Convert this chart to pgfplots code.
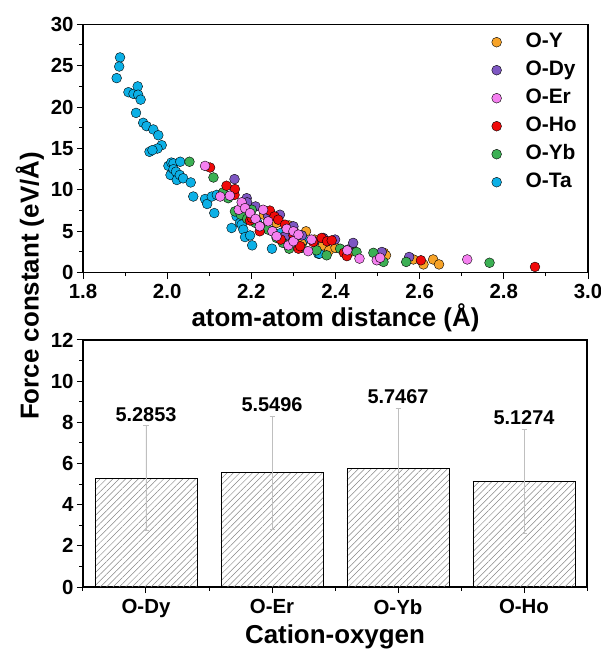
\documentclass[border=0pt]{standalone}
\usepackage{fontspec}
\setmainfont{Liberation Sans}
\usepackage{pgfplots}
\pgfplotsset{compat=1.18}
\usepackage{pgfplotstable}
\usetikzlibrary{patterns.meta}

\definecolor{cY}{RGB}{247,163,40}
\definecolor{cDy}{RGB}{126,87,194}
\definecolor{cEr}{RGB}{245,128,240}
\definecolor{cHo}{RGB}{240,10,10}
\definecolor{cYb}{RGB}{60,176,84}
\definecolor{cTa}{RGB}{12,176,230}

\pgfplotstableread{
x y
2.20 6.8
2.23 7.0
2.26 6.0
2.28 4.0
2.29 5.7
2.30 5.2
2.32 3.5
2.33 5.0
2.35 4.0
2.37 3.3
2.385 2.7
2.40 3.0
2.44 2.6
2.515 2.4
2.52 2.1
2.585 1.6
2.609 1.0
2.632 1.6
2.646 1.0
}\dataY

\pgfplotstableread{
x y
2.160 11.3
2.189 9.0
2.19 8.5
2.21 8.0
2.24 6.8
2.268 7.0
2.28 4.4
2.30 5.6
2.32 4.5
2.35 3.8
2.371 4.2
2.399 4.0
2.43 2.8
2.442 3.6
2.510 2.5
2.575 1.9
}\dataDy

\pgfplotstableread{
x y
2.090 12.9
2.126 9.2
2.149 9.3
2.17 7.6
2.177 8.5
2.185 7.8
2.197 7.2
2.210 6.5
2.22 5.6
2.228 7.6
2.240 6.2
2.250 5.0
2.260 4.4
2.284 5.3
2.288 3.3
2.300 5.0
2.30 3.8
2.312 4.6
2.335 2.6
2.343 4.0
2.428 2.7
2.457 1.7
2.498 1.5
2.506 1.8
2.713 1.6
}\dataEr

\pgfplotstableread{
x y
2.102 12.7
2.141 10.5
2.16 9.4
2.161 10.1
2.197 6.3
2.201 6.6
2.22 5.0
2.244 7.5
2.255 6.8
2.264 6.4
2.27 4.0
2.28 5.8
2.30 4.5
2.312 2.9
2.316 3.2
2.347 3.7
2.367 4.2
2.38 3.8
2.391 3.9
2.42 2.4
2.427 2.0
2.603 1.5
2.874 0.7
}\dataHo

\pgfplotstableread{
x y
2.053 13.4
2.110 11.5
2.133 9.7
2.145 9.0
2.161 7.4
2.175 7.0
2.19 6.5
2.201 7.6
2.21 6.0
2.221 5.6
2.240 5.2
2.260 4.2
2.275 3.6
2.290 2.9
2.32 3.0
2.355 2.7
2.379 2.1
2.411 2.9
2.45 2.5
2.490 2.4
2.514 1.3
2.568 1.3
2.766 1.2
}\dataYb

\pgfplotstableread{
x y
1.888 26.0
1.886 24.9
1.880 23.5
1.908 21.8
1.920 21.6
1.930 22.5
1.931 21.5
1.937 20.9
1.926 19.3
1.943 18.1
1.951 17.7
1.967 17.3
1.979 16.6
1.987 15.4
1.977 15.0
1.958 14.6
1.965 14.8
2.003 12.9
2.010 13.3
2.015 13.2
2.031 13.4
2.008 11.8
2.015 12.5
2.021 12.2
2.023 11.2
2.030 11.8
2.038 11.4
2.056 10.9
2.062 9.2
2.090 8.9
2.095 8.3
2.106 9.2
2.118 9.4
2.112 7.2
2.153 5.4
2.165 6.8
2.173 6.0
2.177 5.8
2.181 5.2
2.185 4.3
2.197 4.5
2.202 3.3
2.213 6.2
2.249 2.9
2.25 5.0
2.27 4.8
2.284 3.9
2.300 4.5
2.324 3.9
2.359 2.3
2.362 2.3
}\dataTa

\pgfplotstableread{
x y e lab
1 5.2853 2.545 5.2853
2 5.5496 2.75 5.5496
3 5.7467 2.94 5.7467
4 5.1274 2.53 5.1274
}\databar

\newcommand{\tickfont}{\fontsize{20.5}{24}\selectfont\bfseries}
\newcommand{\labfont}{\fontsize{26}{30}\selectfont\bfseries}

\pgfplotsset{
  common/.style={
    scale only axis,
    enlargelimits=false,
    tick pos=left,
    tick align=outside,
    major tick length=6bp,
    minor tick length=3.5bp,
    axis line style={line width=1.2bp},
    tick style={line width=1bp, black},
    /pgf/number format/assume math mode=true,
    tick label style={font=\tickfont},
  },
  dot/.style={only marks, mark=*, mark size=4.9bp, mark options={draw=none, fill=#1}},
}

\begin{document}
\begin{tikzpicture}
\clip (-83bp,-62bp) rectangle (518bp,587bp);
% ---------- top scatter axis ----------
\begin{axis}[
  common,
  at={(0bp,314.3bp)}, anchor=south west,
  width=505bp, height=248.4bp,
  xmin=1.8, xmax=3.0, ymin=0, ymax=30,
  xtick={1.8,2.0,2.2,2.4,2.6,2.8,3.0},
  minor x tick num=1,
  ytick={0,5,10,15,20,25,30},
  minor y tick num=1,
  xticklabel style={yshift=-2bp, /pgf/number format/fixed, /pgf/number format/fixed zerofill, /pgf/number format/precision=1},
  xlabel={atom-atom distance (Å)},
  xlabel style={at={(axis description cs:0.5,0)}, anchor=center, yshift=-45bp, font=\labfont},
  legend cell align=left,
  legend style={
    at={(rel axis cs:0.809,0.969)}, anchor=north west,
    draw=none, fill=none, inner sep=0pt,
    font=\fontsize{21}{25}\selectfont\bfseries,
    row sep=8bp,
    nodes={inner sep=0pt, text height=15bp, text depth=5bp},
    /tikz/every odd column/.append style={column sep=24bp},
  },
]
\addlegendimage{dot=cY}
\addlegendentry{O-Y}
\addlegendimage{dot=cDy}
\addlegendentry{O-Dy}
\addlegendimage{dot=cEr}
\addlegendentry{O-Er}
\addlegendimage{dot=cHo}
\addlegendentry{O-Ho}
\addlegendimage{dot=cYb}
\addlegendentry{O-Yb}
\addlegendimage{dot=cTa}
\addlegendentry{O-Ta}
\addplot[dot=cTa, forget plot] table[x=x,y=y] \dataTa;
\addplot[dot=cY, forget plot] table[x=x,y=y] \dataY;
\addplot[dot=cDy, forget plot] table[x=x,y=y] \dataDy;
\addplot[dot=cYb, forget plot] table[x=x,y=y] \dataYb;
\addplot[dot=cHo, forget plot] table[x=x,y=y] \dataHo;
\addplot[dot=cEr, forget plot] table[x=x,y=y] \dataEr;
\end{axis}
% ---------- bottom bar axis ----------
\begin{axis}[
  common,
  at={(0bp,0bp)}, anchor=south west,
  width=504bp, height=247bp,
  xmin=0.5, xmax=4.5, ymin=0, ymax=12,
  xtick={1,2,3,4},
  xticklabels={O-Dy,O-Er,O-Yb,O-Ho},
  minor xtick={0.5,1.5,2.5,3.5,4.5},
  ytick={0,2,4,6,8,10,12},
  minor y tick num=1,
  xticklabel style={yshift=-3bp},
  xlabel={Cation-oxygen},
  xlabel style={at={(axis description cs:0.5,0)}, anchor=center, yshift=-49.5bp, font=\labfont},
]
\addplot[ybar, bar width=0.81, draw=black, line width=0.8bp,
  pattern={Lines[angle=45, distance=4.5bp, line width=0.5bp]}, pattern color=gray!95,
  error bars/.cd, y dir=both, y explicit,
  error bar style={gray!50, line width=0.7bp},
  error mark options={rotate=90, gray!50, mark size=2.5bp, line width=0.7bp}]
  table[x=x, y=y, y error=e] \databar;
\addplot[draw=none, mark=none, nodes near coords, point meta=explicit symbolic,
  nodes near coords style={anchor=south, inner sep=1bp, yshift=3bp, font=\fontsize{20}{24}\selectfont\bfseries, black}]
  table[x=x, y expr=\thisrow{y}+\thisrow{e}, meta=lab] \databar;
\end{axis}
\node[rotate=90, font=\labfont] at (-53bp,301bp) {Force constant (eV/Å)};
\end{tikzpicture}
\end{document}
